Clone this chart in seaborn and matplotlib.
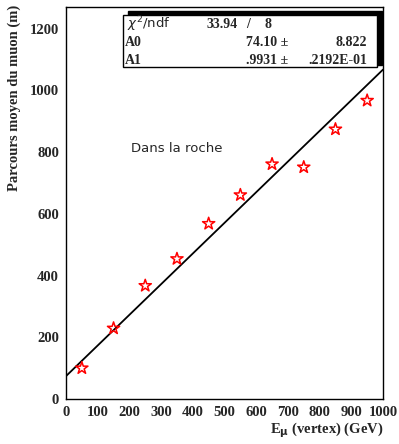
import numpy as np
import pandas as pd
import matplotlib
matplotlib.use("Agg")
import matplotlib.pyplot as plt
import seaborn as sns
from matplotlib.patches import Rectangle
from matplotlib.ticker import MultipleLocator

# Data
energy = [50, 150, 250, 350, 450, 550, 650, 750, 850, 950]
parcours = [100, 229, 367, 454, 568, 661, 761, 751, 874, 967]
fit_a0 = 74.10
fit_a1 = 0.9931
fit_x = [0, 1000]
stats_labels = ["A0", "A1"]
stats_values = ["74.10 \u00b1", ".9931 \u00b1"]
stats_errors = ["8.822", ".2192E-01"]
chi2_value = "33.94"
chi2_ndf = "8"

sns.set_theme(style="white")
plt.rcParams['font.family'] = ['Liberation Serif', 'DejaVu Serif']

fig = plt.figure(figsize=(3.99, 4.44), dpi=100)
ax = fig.add_axes([66/399, 1-399/444, (383-66)/399, (399-7)/444])

df = pd.DataFrame({"E": energy, "P": parcours})
fit_df = pd.DataFrame({"E": fit_x, "P": [fit_a0 + fit_a1 * x for x in fit_x]})

sns.lineplot(data=fit_df, x="E", y="P", ax=ax, color="black", lw=1.3)
sns.scatterplot(data=df, x="E", y="P", ax=ax, marker="*", s=85,
                facecolors="none", edgecolor="red", linewidth=1.1, zorder=3)
for coll in ax.collections:
    coll.set_facecolor("none")
    coll.set_edgecolor("red")

ax.set_xlim(0, 1000)
ax.set_ylim(0, 1270)
ax.xaxis.set_major_locator(MultipleLocator(100))
ax.xaxis.set_minor_locator(MultipleLocator(20))
ax.yaxis.set_major_locator(MultipleLocator(200))
ax.yaxis.set_minor_locator(MultipleLocator(50))
ax.tick_params(which="major", direction="in", length=7, width=0.8,
               top=False, right=False, labelsize=10.5, pad=5)
ax.tick_params(which="minor", direction="in", length=3.5, width=0.8,
               top=False, right=False)
for lbl in ax.get_xticklabels() + ax.get_yticklabels():
    lbl.set_fontweight("bold")
for sp in ax.spines.values():
    sp.set_color("black")
    sp.set_linewidth(1.0)

ax.set_xlabel("")
ax.set_ylabel("")
fig.text(383/399, 1-430/444, r"E$_{\mathbf{\mu}}$ (vertex) (GeV)", ha="right", va="center",
         fontsize=10.5, fontweight="bold")
fig.text(14/399, 1-5/444, "Parcours moyen du muon (m)", rotation=90, ha="center", va="top",
         fontsize=10.5, fontweight="bold")

ax.text(204, 813, "Dans la roche", fontsize=9.5, family=["DejaVu Sans"],
        ha="left", va="center")

# Stats box
bx0, by0 = 123/399, 1-67/444
bx1, by1 = 377/399, 1-15/444
sh = 5/399
shv = 4/444
fig.patches.append(Rectangle((bx0 + sh, by0 + 2/444), bx1 - bx0, by1 - by0 + shv - 2/444,
                             transform=fig.transFigure, facecolor="black", edgecolor="black", zorder=5))
fig.patches.append(Rectangle((bx0, by0), bx1 - bx0, by1 - by0,
                             transform=fig.transFigure, facecolor="white", edgecolor="black",
                             linewidth=1.0, zorder=6))
rows_y = [1-24/444, 1-42/444, 1-60/444]
fs = 10
fig.text(127/399, rows_y[0], r"$\chi^2$/ndf", fontsize=9.5, family=["DejaVu Sans"],
         va="center", ha="left", zorder=7)
fig.text(238/399, rows_y[0], chi2_value, fontsize=fs, fontweight="bold", va="center", ha="right", zorder=7)
fig.text(248/399, rows_y[0], "/", fontsize=fs, fontweight="bold", va="center", ha="center", zorder=7)
fig.text(268/399, rows_y[0], chi2_ndf, fontsize=fs, fontweight="bold", va="center", ha="center", zorder=7)
for i, (lab, val, err) in enumerate(zip(stats_labels, stats_values, stats_errors)):
    y = rows_y[i + 1]
    fig.text(125/399, y, lab, fontsize=fs, fontweight="bold", va="center", ha="left", zorder=7)
    fig.text(288/399, y, val, fontsize=fs, fontweight="bold", va="center", ha="right", zorder=7)
    fig.text(367/399, y, err, fontsize=fs, fontweight="bold", va="center", ha="right", zorder=7)

fig.savefig("out.png", dpi=100)
